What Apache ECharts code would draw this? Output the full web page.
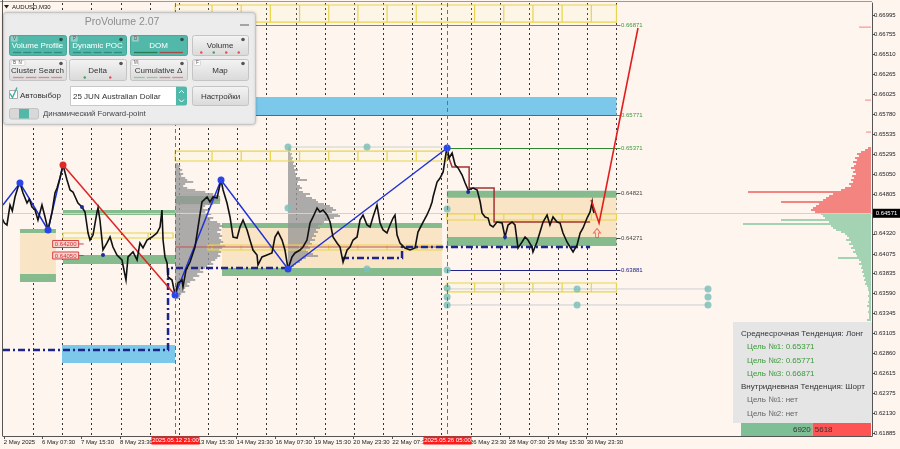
<!DOCTYPE html>
<html><head><meta charset="utf-8">
<script src="https://cdn.jsdelivr.net/npm/echarts@6/dist/echarts.min.js"></script>
<style>html,body{margin:0;padding:0;background:#fdf5ee}#c{width:900px;height:449px}</style>
</head><body><div id="c"></div>
<script>
// ---------- axes ----------
const yTicks = [0.66995,0.66755,0.66510,0.66265,0.66025,0.65780,0.65535,0.65295,0.65050,0.64805,0.64320,0.64075,0.63835,0.63590,0.63345,0.63105,0.62860,0.62615,0.62375,0.62130,0.61885];
// x = trading hours since 5 May 00:00
const xLabelHours = [0,31.5,63.5,95.5,159.5,191.5,223.5,255.5,287.5,319.5,383.5,415.5,447.5,479.5];
const xLabelTexts = ['2 May 2025','6 May 07:30','7 May 15:30','8 May 23:30','13 May 15:30','14 May 23:30','16 May 07:30','19 May 15:30','20 May 23:30','22 May 07:30','26 May 23:30','28 May 07:30','29 May 15:30','30 May 23:30'];
const daySeparators = [24,48,72,96,120,144,168,192,216,240,264,288,312,336,360,384,408,432,456,480,504];
const vLineHours = [141,364.5];
const vLineTexts = ['2025.05.12 21:00','2025.05.26 05:00'];
const H_MIN = -0.66, H_MAX = 714.2, P_MIN = 0.618483, P_MAX = 0.671417;

// ---------- price (M30 close) ----------
const priceLine = [[-1.5,0.64513],[0.5,0.64452],[2.6,0.64428],[5.1,0.64672],[7.0,0.64600],[9.2,0.64770],[11.7,0.64892],[13.3,0.64941],[15.8,0.64819],[19.1,0.64697],[21.0,0.64745],[23.2,0.64648],[25.7,0.64611],[28.1,0.64489],[31.4,0.64672],[33.9,0.64526],[36.4,0.64367],[39.7,0.64587],[42.1,0.64819],[43.8,0.64880],[46.2,0.65002],[48.7,0.65161],[52.0,0.64978],[54.5,0.64856],[56.9,0.64831],[61.0,0.64697],[64.3,0.64648],[66.8,0.64587],[69.3,0.64330],[70.9,0.64244],[73.4,0.64306],[76.7,0.64587],[77.5,0.64636],[79.1,0.64489],[81.6,0.64122],[84.9,0.64208],[87.4,0.64281],[89.8,0.64159],[93.1,0.64061],[97.2,0.64000],[100.5,0.63755],[102.2,0.64037],[106.3,0.64098],[109.6,0.64000],[112.0,0.64208],[114.5,0.64147],[117.8,0.64244],[121.9,0.64281],[126.0,0.64330],[128.5,0.64403],[130.1,0.64611],[131.0,0.64244],[132.6,0.64037],[134.3,0.63963],[135.1,0.63792],[138.4,0.63755],[140.9,0.63572],[143.3,0.63719],[146.6,0.63755],[147.4,0.63670],[149.9,0.63878],[153.2,0.63975],[157.3,0.64159],[159.8,0.64403],[163.0,0.64709],[167.2,0.64770],[169.6,0.64709],[172.1,0.64770],[175.4,0.64758],[178.7,0.64978],[180.4,0.64856],[183.6,0.64697],[186.1,0.64526],[188.6,0.64281],[191.9,0.64269],[194.3,0.64403],[196.8,0.64489],[200.1,0.64367],[202.5,0.64244],[205.0,0.64122],[208.3,0.64061],[209.1,0.63939],[212.4,0.64037],[216.5,0.64061],[220.6,0.64086],[223.1,0.64281],[225.6,0.64342],[228.9,0.64244],[231.3,0.64122],[233.8,0.63890],[237.1,0.64037],[239.5,0.64086],[243.7,0.64122],[246.1,0.64159],[249.4,0.64244],[251.9,0.64452],[254.4,0.64526],[257.7,0.64636],[260.1,0.64587],[262.6,0.64611],[265.9,0.64550],[268.4,0.64464],[270.8,0.64281],[274.1,0.64208],[276.6,0.64159],[279.1,0.63975],[282.4,0.64122],[284.8,0.64159],[287.3,0.64244],[290.6,0.64281],[293.0,0.64489],[295.5,0.64550],[298.8,0.64428],[301.3,0.64403],[303.7,0.64526],[307.0,0.64672],[309.5,0.64452],[312.0,0.64367],[315.2,0.64330],[317.7,0.64428],[320.2,0.64513],[321.8,0.64550],[323.5,0.64306],[325.9,0.64208],[330.0,0.64147],[334.2,0.64122],[338.3,0.64147],[340.7,0.64342],[344.9,0.64464],[348.1,0.64550],[350.6,0.64636],[352.3,0.64709],[353.1,0.64770],[356.4,0.64953],[358.9,0.65002],[361.4,0.65076],[363.8,0.65308],[364.7,0.65369],[366.3,0.65247],[368.8,0.65308],[371.3,0.65161],[373.7,0.65125],[377.0,0.65039],[379.5,0.64941],[382.0,0.64856],[386.1,0.64880],[389.4,0.64856],[391.9,0.64709],[393.4,0.64575],[395.9,0.64526],[398.4,0.64513],[400.0,0.64428],[402.5,0.64403],[405.7,0.64464],[409.9,0.64452],[412.3,0.64281],[414.8,0.64428],[418.1,0.64464],[420.5,0.64428],[423.0,0.64147],[426.3,0.64220],[428.8,0.64281],[431.2,0.64244],[434.5,0.64159],[435.3,0.64098],[438.6,0.64220],[441.1,0.64342],[443.6,0.64464],[446.9,0.64550],[449.3,0.64428],[451.8,0.64526],[455.1,0.64464],[457.6,0.64452],[460.0,0.64330],[463.3,0.64220],[465.8,0.64159],[468.3,0.64098],[471.6,0.64183],[474.1,0.64330],[476.5,0.64391],[479.8,0.64513],[482.3,0.64587],[484.0,0.64709],[484.8,0.64611],[485.6,0.64575]];
const currentPrice = 0.64571;

// ---------- zigzag / forecast ----------
const blueZigA = [[-0.7,0.64672],[13.3,0.64941],[36.4,0.64367],[48.7,0.65161]];
const redZig = [[48.7,0.65161],[140.9,0.63572]];
const blueZigB = [[140.9,0.63572],[178.7,0.64978],[233.8,0.63890],[364.7,0.65369]];
const forecastPath = [[483.1,0.64733],[489.7,0.64452],[521.7,0.66836]];
const blueDots = [[13.3,0.64941],[36.4,0.64367],[140.9,0.63572],[178.7,0.64978],[233.8,0.63890],[364.7,0.65369]];
const redDots = [[48.7,0.65161]];
const smallDots = [[64.3,0.64648],[81.6,0.64061],[382.0,0.64831],[412.3,0.64281]];

// ---------- zones [hStart, hEnd, pLow, pHigh] ----------
const beigeZones = [[13.3,42.9,0.63829,0.64330],[179.5,360.5,0.63902,0.64391],[364.5,504,0.64281,0.64760]];
const greenZones = [[13.3,42.9,0.64330,0.64379],[13.3,42.9,0.63731,0.63829],[48.7,140.9,0.64550,0.64611],[48.7,140.9,0.63951,0.64061],[141.6,177.9,0.64684,0.64782],[179.5,360.5,0.64391,0.64452],[179.5,360.5,0.63804,0.63902],[364.5,504,0.64760,0.64845],[364.5,504,0.64171,0.64281]];
const blueZones = [[141,504,0.65771,0.65993],[47.9,140.9,0.62741,0.62961]];
const yellowRows = [[141,504,0.66909,0.67117],[141,364.5,0.65210,0.65332],[168,360.5,0.64122,0.64183],[364.5,504,0.64489,0.64562],[364.5,504,0.63609,0.63719],[48.7,139.2,0.64269,0.64330]];
const yellowDividers = [118.7,171.3,195.3,219.3,243.3,267.3,291.3,315.3,339.3,387.3,411.3,435.3,459.3,483.3];

// ---------- levels ----------
const levelPrices = [0.66871,0.65771,0.65371,0.64821,0.64271,0.63881];
const levelStarts = [141,141,364.5,364.5,364.5,364.5];
const levelEnd = 504;
const pocSteps = [[364.7,0.65308],[368.8,0.65137],[382.8,0.65137],[382.8,0.64880],[403.3,0.64880],[403.3,0.64464],[482.3,0.64464]];
const pocFlat = [[141,0.64159],[362,0.64159]];
const navyPathA = [[-0.66,0.62900],[135.1,0.62900],[135.1,0.63902],[233.8,0.63902]];
const navyPathB = [[278.2,0.64024],[327.6,0.64024],[327.6,0.64159],[482.3,0.64159]];
const tealDots = [[233.8,0.65381],[298.8,0.65381],[233.8,0.64636],[298.8,0.63890],[364.7,0.64623],[364.7,0.63878],[364.7,0.63658],[364.7,0.63548],[364.7,0.63450],[471.6,0.63646],[471.6,0.63450],[579.3,0.63646],[579.3,0.63548],[579.3,0.63450]];
const grayGuides = [[233.8,364.7,0.65381],[364.7,579.3,0.63646],[364.7,579.3,0.63450]];
const priceTags = [[40.2,0.64196,'0.64200'],[40.2,0.64055,'0.64050']];
const arrowMark = [[488.0,0.64330]];

// ---------- volume profiles (bins top-down) ----------
const prof1Base = 141, prof1Top = 0.65174, prof1Step = 0.0002445;
const prof1Vols = [3,5,4,7,5,8,6,10,12,18,10,8,12,20,30,38,44,42,45,40,38,30,28,33,30,36,32,38,35,42,45,48,44,46,42,45,47,44,46,48,45,50,47,44,46,43,45,42,40,36,38,32,30,25,28,22,24,18,20,15,12,14,10,8,10,6,5,4];
const prof2Base = 233.8, prof2Top = 0.65369, prof2Step = 0.0002445;
const prof2Vols = [2,3,2,4,3,5,4,6,5,8,6,10,7,9,8,12,19,10,9,12,14,11,15,22,18,24,28,30,36,42,45,48,44,50,52,46,40,36,34,30,32,28,30,26,28,24,27,22,24,20,22,18,20,25,30,18,14,12,8,6,4];
const prof3Base = 713.4, prof3Top = 0.65369, prof3Step = 0.0002445;
const prof3Vols = [3,6,10,14,12,16,14,18,15,17,20,16,18,15,19,17,20,18,22,20,26,30,123,38,42,45,48,90,52,55,58,60,56,50,48,46,90,42,128,40,38,35,30,26,24,22,25,20,22,18,20,16,18,15,14,33,12,10,12,9,10,8,9,7,8,6,7,5,6,4,3,3,2,2,3,2,2,3,2,4,2,2,3,2,2,2,4];
const prof3Spikes = [[0.66848,12],[0.65956,6],[0.65565,5],[0.62814,10],[0.62313,12],[0.62080,8]];
const volUnitHours = 0.8226;

// ---------- panel / info ----------
const sideVolumes = [6920,5618];
const mediumTargets = [0.65371,0.65771,0.66871];
const intradayTargets = ['нет','нет'];

const FONT = '"Liberation Sans", Arial, sans-serif';
const chart = echarts.init(document.getElementById('c'), null, {renderer:'canvas', width:900, height:449});

function rectZone(data, fill, z) {
  return {type:'custom', z, silent:true, data, encode:{x:[0,1], y:[2,3]},
    renderItem(params, api) {
      const a = api.coord([api.value(0), api.value(3)]);
      const b = api.coord([api.value(1), api.value(2)]);
      return {type:'rect', shape:{x:a[0], y:a[1], width:b[0]-a[0], height:b[1]-a[1]}, style:{fill}};
    }};
}
function profile(vols, top, step, base, dir, colorFn, z) {
  const data = vols.map((v,i)=>[top - i*step, v]);
  return profileFromPairs(data, step, base, dir, colorFn, z);
}
function profileFromPairs(data, step, base, dir, colorFn, z) {
  return {type:'custom', z, silent:true, data, encode:{x:1, y:0},
    renderItem(params, api) {
      const p = api.value(0), v = api.value(1);
      const a = api.coord([base, p + step/2]);
      const b = api.coord([base + dir*v*volUnitHours, p - step/2]);
      return {type:'rect', shape:{x:Math.min(a[0],b[0]), y:a[1], width:Math.abs(b[0]-a[0]), height:Math.max(1,b[1]-a[1])}, style:{fill:colorFn(p)}};
    }};
}
function path(data, color, width, z, type) {
  return {type:'line', data, z, silent:true, showSymbol:false, symbol:'none', animation:false,
    lineStyle:{color, width, type: type || 'solid', join:'miter'}};
}
function dots(data, color, size, z) {
  return {type:'scatter', data, z, silent:true, symbolSize:size, itemStyle:{color, opacity:1}};
}

const levelLineColors = ['#6a9e22','#2f8a2f','#2f8a2f',null,null,'#22238a'];
const levelLabelColors = ['#3d9a3d','#3d9a3d','#3d9a3d','#444','#444','#22238a'];

const series = [
  {type:'custom', z:1, silent:true, data: daySeparators.map(h=>[h,P_MIN]), encode:{x:0,y:1},
    renderItem(params, api){
      const h = api.value(0);
      const a = api.coord([h,P_MAX]), b = api.coord([h,P_MIN]);
      return {type:'line', shape:{x1:Math.round(a[0])+0.5,y1:a[1],x2:Math.round(a[0])+0.5,y2:b[1]}, style:{stroke:'#333', lineWidth:1, lineDash:[2,3]}};
    }},
  rectZone(beigeZones, '#f9e4c6', 2),
  rectZone(greenZones, '#86bb8d', 3),
  rectZone(blueZones, '#7cc8ea', 3),
  profile(prof1Vols, prof1Top, prof1Step, prof1Base, 1, ()=> 'rgba(150,150,150,0.78)', 4),
  profile(prof2Vols, prof2Top, prof2Step, prof2Base, 1, ()=> 'rgba(150,150,150,0.78)', 4),
  profile(prof3Vols, prof3Top, prof3Step, prof3Base, -1, p=> p > currentPrice ? '#f4847f' : '#a3d3b3', 4),
  profileFromPairs(prof3Spikes, 0.0001, prof3Base, -1, p=> p > currentPrice ? '#f4847f' : '#a3d3b3', 4),
  {type:'custom', z:4, silent:true, data:[[H_MIN,currentPrice]], encode:{x:0,y:1},
    renderItem(params, api){
      const a = api.coord([H_MIN,currentPrice]), b = api.coord([H_MAX,currentPrice]);
      return {type:'line', shape:{x1:a[0],y1:Math.round(a[1])+0.5,x2:b[0],y2:Math.round(a[1])+0.5}, style:{stroke:'#d2d2d2', lineWidth:1}};
    }},
  {type:'custom', z:5, silent:true, data:yellowRows, encode:{x:[0,1],y:[2,3]},
    renderItem(params, api){
      const x1 = api.value(0), x2 = api.value(1), lo = api.value(2), hi = api.value(3);
      const a = api.coord([x1,hi]), b = api.coord([x2,lo]);
      const ch = [{type:'rect', shape:{x:a[0],y:a[1],width:b[0]-a[0],height:b[1]-a[1]}, style:{fill:'rgba(255,245,170,0.12)', stroke:'#ead44c', lineWidth:1.2}}];
      yellowDividers.forEach(d=>{ if (d > x1+1 && d < x2-1) { const px = api.coord([d,hi])[0]; ch.push({type:'line', shape:{x1:px,y1:a[1],x2:px,y2:b[1]}, style:{stroke:'#ead44c', lineWidth:1.2}}); } });
      return {type:'group', children:ch};
    }},
  {type:'custom', z:5, silent:true, data:grayGuides, encode:{x:[0,1],y:2},
    renderItem(params, api){
      const a = api.coord([api.value(0),api.value(2)]), b = api.coord([api.value(1),api.value(2)]);
      return {type:'line', shape:{x1:a[0],y1:a[1],x2:b[0],y2:b[1]}, style:{stroke:'#cfcfcf', lineWidth:1}};
    }},
  {type:'custom', z:6, silent:true, data: levelPrices.map((p,i)=>[levelStarts[i], levelEnd, p, i]), encode:{x:[0,1],y:2},
    renderItem(params, api){
      const i = api.value(3), p = api.value(2);
      const a = api.coord([api.value(0),p]), b = api.coord([api.value(1),p]);
      const y = Math.round(a[1]) + 0.5;
      const ch = [];
      if (levelLineColors[i]) ch.push({type:'line', shape:{x1:a[0],y1:y,x2:b[0],y2:y}, style:{stroke:levelLineColors[i], lineWidth:1.2}});
      ch.push({type:'line', shape:{x1:b[0],y1:y,x2:b[0]+4,y2:y}, style:{stroke:levelLabelColors[i], lineWidth:1}});
      ch.push({type:'text', x:b[0]+4.5, y:y, style:{text:p.toFixed(5), font:'6px '+FONT, fill:levelLabelColors[i], verticalAlign:'middle', align:'left'}});
      return {type:'group', children:ch};
    }},
  path(pocFlat, '#c05050', 1, 6),
  path(pocSteps, '#a23232', 1.5, 6),
  path(navyPathA, '#1f2488', 2.5, 7, [7,3,2,3]),
  path(navyPathB, '#1f2488', 2.5, 7, [7,3,2,3]),
  path(blueZigA, '#2233d6', 1.5, 8),
  path(redZig, '#e02222', 1.5, 8),
  path(blueZigB, '#2233d6', 1.5, 8),
  path(priceLine, '#111111', 1.6, 9),
  path(forecastPath, '#e41e1e', 1.6, 9),
  dots(tealDots, 'rgba(126,192,186,0.85)', 7, 10),
  dots(blueDots, '#2a46e8', 7, 10),
  dots(redDots, '#e02a2a', 7, 10),
  dots(smallDots, '#1f2a98', 4, 10),
  {type:'scatter', z:10, silent:true, data:arrowMark, symbol:'path://M5,0 L10,5 L7,5 L7,10 L3,10 L3,5 L0,5 Z', symbolSize:[7,9],
    itemStyle:{color:'rgba(255,255,255,0)', borderColor:'#e25555', borderWidth:1}},
  {type:'custom', z:11, silent:true, data:priceTags.map(t=>[t[0],t[1]]), encode:{x:0,y:1},
    renderItem(params, api){
      const c = api.coord([api.value(0),api.value(1)]);
      const txt = priceTags[params.dataIndex][2];
      return {type:'group', children:[
        {type:'rect', shape:{x:c[0],y:c[1]-3.5,width:26,height:7}, style:{fill:'#f7d6d2', stroke:'#d84040', lineWidth:1}},
        {type:'line', shape:{x1:c[0]+26,y1:c[1],x2:c[0]+31,y2:c[1]}, style:{stroke:'#d84040', lineWidth:1}},
        {type:'text', x:c[0]+13, y:c[1]+0.5, style:{text:txt, font:'6px '+FONT, fill:'#d03030', align:'center', verticalAlign:'middle'}}
      ]};
    }},
  {type:'custom', z:12, silent:true, data:vLineHours.map((h,i)=>[h,P_MIN,i]), encode:{x:0,y:1},
    renderItem(params, api){
      const h = api.value(0), i = api.value(2);
      const a = api.coord([h,P_MAX]), b = api.coord([h,P_MIN]);
      const x = Math.round(a[0]) + 0.5;
      return {type:'group', children:[
        {type:'line', shape:{x1:x,y1:a[1],x2:x,y2:b[1]}, style:{stroke:'#e24040', lineWidth:1, lineDash:[4,3]}},
        {type:'rect', shape:{x:x-24,y:b[1]+0.5,width:48,height:8}, style:{fill:'#ff1a1a'}},
        {type:'text', x:x, y:b[1]+4.7, style:{text:vLineTexts[i], font:'6px '+FONT, fill:'#ffffff', align:'center', verticalAlign:'middle'}}
      ]};
    }},
  {type:'custom', z:12, silent:true, data:[[H_MAX,currentPrice]], encode:{x:0,y:1},
    renderItem(params, api){
      const c = api.coord([H_MAX,currentPrice]);
      return {type:'group', children:[
        {type:'rect', shape:{x:c[0]+1,y:c[1]-4.5,width:27,height:9}, style:{fill:'#000'}},
        {type:'text', x:c[0]+14.5, y:c[1]+0.3, style:{text:currentPrice.toFixed(5), font:'6px '+FONT, fill:'#fff', align:'center', verticalAlign:'middle'}}
      ]};
    }}
];

const G = [];
function add(el){ el.z = 100; G.push(el); }
const grayFill = {type:'linear',x:0,y:0,x2:0,y2:1,colorStops:[{offset:0,color:'#f4f4f4'},{offset:1,color:'#d9d9d9'}]};
const TEAL = '#52b9aa';
add({type:'rect', shape:{x:3.5,y:12.5,width:252,height:112,r:3}, style:{fill:'#ececec', stroke:'#c6c6c6', lineWidth:1, shadowBlur:3, shadowColor:'rgba(0,0,0,0.18)'}});
add({type:'text', x:122, y:22, style:{text:'ProVolume 2.07', font:'10.5px '+FONT, fill:'#8d8d8d', align:'center', verticalAlign:'middle'}});
add({type:'line', shape:{x1:240,y1:25,x2:249,y2:25}, style:{stroke:'#8d8d8d', lineWidth:1.5}});
const buttons = [
 [9,35,57,20,'Volume Profile',true,'V',['#2c8d80','#2c8d80','#2c8d80','#2c8d80','#2c8d80']],
 [69,35,57,20,'Dynamic POC',true,'P',['#2c8d80','#2c8d80','#2c8d80','#2c8d80','#2c8d80']],
 [130,35,57,20,'DOM',true,'D',['#2a7a50','#a84848']],
 [192,35,56,20,'Volume',false,'',['d#e05050','d#40a060','d#e05050','d#e05050']],
 [9,59,57,21,'Cluster Search',false,'B  N',['#e08888','#e08888','#e08888','#e08888']],
 [69,59,57,21,'Delta',false,'',['d#40a060','d#e05050']],
 [130,59,57,21,'Cumulative Δ',false,'M',['#9cc39c','#9cc39c','#e08888','#e08888']],
 [192,59,56,21,'Map',false,'F',[]]
];
buttons.forEach(([x,y,w,h,label,teal,corner,dash])=>{
  add({type:'rect', shape:{x:x+0.5,y:y+0.5,width:w,height:h,r:2}, style:{fill: teal ? TEAL : grayFill, stroke: teal ? '#48a99b' : '#c4c4c4', lineWidth:1}});
  add({type:'text', x:x+w/2, y:y+h/2+1, style:{text:label, font:'8px '+FONT, fill: teal ? '#ffffff' : '#333333', align:'center', verticalAlign:'middle'}});
  if (corner) {
    add({type:'rect', shape:{x:x+2,y:y+1.5,width:corner.length*2.5+4,height:5,r:1}, style:{fill: teal ? 'rgba(255,255,255,0.35)' : 'rgba(255,255,255,0.8)', stroke:'#bbb', lineWidth:0.5}});
    add({type:'text', x:x+4, y:y+4.2, style:{text:corner, font:'4.5px '+FONT, fill:'#555', verticalAlign:'middle'}});
  }
  add({type:'circle', shape:{cx:x+w-5, cy:y+4.5, r:1.8}, style:{fill: teal ? '#2f4f4a' : '#555'}});
  const n = dash.length;
  if (n) {
    const seg = (w-6)/n;
    dash.forEach((c,i)=>{
      const sx = x+3+i*seg;
      if (c[0]==='d') add({type:'circle', shape:{cx:sx+seg/2, cy:y+h-2.5, r:1.2}, style:{fill:c.slice(1)}});
      else add({type:'line', shape:{x1:sx+1,y1:y+h-2.5,x2:sx+seg-1,y2:y+h-2.5}, style:{stroke:c, lineWidth:1.3}});
    });
  }
});
add({type:'rect', shape:{x:9.5,y:90.5,width:8,height:8}, style:{fill:'#fff', stroke:'#aaa', lineWidth:1}});
add({type:'polyline', shape:{points:[[10,93.5],[12.5,97.5],[17,87.5]]}, style:{stroke:'#3fb0a0', lineWidth:1.4, fill:null}});
add({type:'text', x:20, y:95.5, style:{text:'Автовыбор', font:'8px '+FONT, fill:'#333', verticalAlign:'middle'}});
add({type:'rect', shape:{x:70.5,y:86.5,width:106,height:19}, style:{fill:'#ffffff', stroke:'#c8c8c8', lineWidth:1}});
add({type:'text', x:73, y:96.5, style:{text:'25 JUN Australian Dollar', font:'8px '+FONT, fill:'#333', verticalAlign:'middle'}});
add({type:'rect', shape:{x:176,y:86.5,width:11,height:19,r:[0,2,2,0]}, style:{fill:TEAL}});
add({type:'polyline', shape:{points:[[179,93],[181.5,90.5],[184,93]]}, style:{stroke:'#fff', lineWidth:1, fill:null}});
add({type:'polyline', shape:{points:[[179,99.5],[181.5,102],[184,99.5]]}, style:{stroke:'#fff', lineWidth:1, fill:null}});
add({type:'rect', shape:{x:192.5,y:86.5,width:56,height:19,r:2}, style:{fill:grayFill, stroke:'#c4c4c4', lineWidth:1}});
add({type:'text', x:220.5, y:96.5, style:{text:'Настройки', font:'8px '+FONT, fill:'#333', align:'center', verticalAlign:'middle'}});
add({type:'rect', shape:{x:9.5,y:108.5,width:29,height:10.5,r:2}, style:{fill:'#d8d8d8', stroke:'#c2c2c2', lineWidth:1}});
add({type:'rect', shape:{x:19,y:109,width:10,height:9.5}, style:{fill:TEAL}});
add({type:'text', x:43, y:114, style:{text:'Динамический Forward-point', font:'7.8px '+FONT, fill:'#444', verticalAlign:'middle'}});
add({type:'polygon', shape:{points:[[4,5],[9,5],[6.5,8.5]]}, style:{fill:'#222'}});
add({type:'text', x:12, y:7, style:{text:'AUDUSD,M30', font:'6px '+FONT, fill:'#111', verticalAlign:'middle'}});
add({type:'line', shape:{x1:0,y1:1.5,x2:872,y2:1.5}, style:{stroke:'#9a9a9a', lineWidth:1}});
add({type:'line', shape:{x1:2.5,y1:0,x2:2.5,y2:436}, style:{stroke:'#555', lineWidth:1}});
add({type:'rect', shape:{x:733,y:322,width:139,height:101}, style:{fill:'rgba(228,228,228,0.97)'}});
const infoLines = [
  ['Среднесрочная Тенденция: Лонг', 741, '#333'],
  ['Цель №1: ' + mediumTargets[0].toFixed(5), 747, '#3a9a3a'],
  ['Цель №2: ' + mediumTargets[1].toFixed(5), 747, '#3a9a3a'],
  ['Цель №3: ' + mediumTargets[2].toFixed(5), 747, '#3a9a3a'],
  ['Внутридневная Тенденция: Шорт', 741, '#333'],
  ['Цель №1: ' + intradayTargets[0], 747, '#666'],
  ['Цель №2: ' + intradayTargets[1], 747, '#666']
];
infoLines.forEach((l,i)=> add({type:'text', x:l[1], y:334 + i*13.25, style:{text:l[0], font:'8px '+FONT, fill:l[2], verticalAlign:'middle'}}));
const barW = 130, gw = barW * sideVolumes[0] / (sideVolumes[0] + sideVolumes[1]);
add({type:'rect', shape:{x:741,y:423,width:gw,height:13}, style:{fill:'#7fbf95'}});
add({type:'rect', shape:{x:741+gw,y:423,width:barW-gw,height:13}, style:{fill:'#ff5454'}});
add({type:'text', x:741+gw-2, y:429.5, style:{text:String(sideVolumes[0]), font:'8px '+FONT, fill:'#333', align:'right', verticalAlign:'middle'}});
add({type:'text', x:741+gw+2, y:429.5, style:{text:String(sideVolumes[1]), font:'8px '+FONT, fill:'#333', align:'left', verticalAlign:'middle'}});

function nearestIdx(arr, v){ let bi=0, bd=Infinity; arr.forEach((a,i)=>{ const d=Math.abs(a-v); if(d<bd){bd=d;bi=i;} }); return bi; }

chart.setOption({
  animation:false,
  backgroundColor:'#fdf5ee',
  textStyle:{fontFamily:FONT},
  grid:{left:3, right:28, top:3, bottom:13},
  xAxis:{type:'value', min:H_MIN, max:H_MAX, position:'bottom',
    axisLine:{show:true, onZero:false, lineStyle:{color:'#555', width:1}},
    axisTick:{show:true, customValues:xLabelHours, length:3, lineStyle:{color:'#555'}},
    axisLabel:{customValues:xLabelHours, formatter:v=> xLabelTexts[nearestIdx(xLabelHours, v)], align:'left', fontSize:6, color:'#222', margin:3, showMinLabel:true, showMaxLabel:true, hideOverlap:false},
    splitLine:{show:false}},
  yAxis:{type:'value', min:P_MIN, max:P_MAX, position:'right', scale:true,
    axisLine:{show:true, onZero:false, lineStyle:{color:'#555', width:1}},
    axisTick:{show:true, customValues:yTicks, length:3, lineStyle:{color:'#555'}},
    axisLabel:{customValues:yTicks, formatter:v=> v.toFixed(5), fontSize:6, color:'#222', margin:2},
    splitLine:{show:false}},
  series,
  graphic:{elements:G}
});
</script></body></html>
